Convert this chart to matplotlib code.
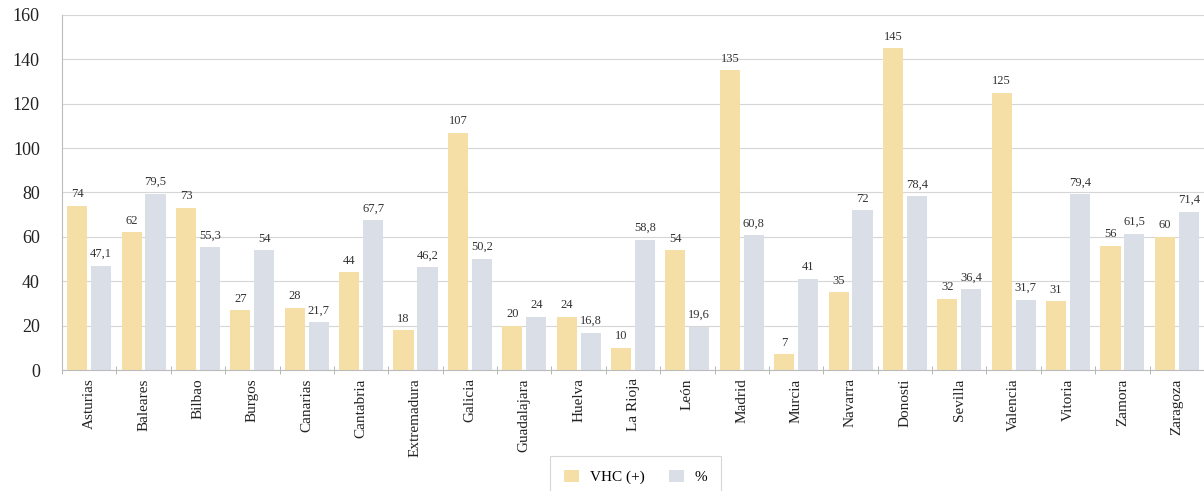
import numpy as np
import matplotlib.pyplot as plt
from matplotlib.ticker import FixedLocator

ciudades = ['Asturias', 'Baleares', 'Bilbao', 'Burgos', 'Canarias', 'Cantabria',
            'Extremadura', 'Galicia', 'Guadalajara', 'Huelva', 'La Rioja', 'León',
            'Madrid', 'Murcia', 'Navarra', 'Donosti', 'Sevilla', 'Valencia',
            'Vitoria', 'Zamora', 'Zaragoza']
vhc = [74, 62, 73, 27, 28, 44, 18, 107, 20, 24, 10, 54, 135, 7, 35, 145, 32, 125, 31, 56, 60]
pct = [47.1, 79.5, 55.3, 54, 21.7, 67.7, 46.2, 50.2, 24, 16.8, 58.8, 19.6, 60.8, 41, 72,
       78.4, 36.4, 31.7, 79.4, 61.5, 71.4]

amarillo = '#f6dfa6'
gris = '#dadee7'

plt.rcParams['font.family'] = ['Liberation Serif', 'DejaVu Serif']

def etiqueta(v):
    if float(v).is_integer():
        return str(int(v))
    return f'{v:.1f}'.replace('.', ',')

fig = plt.figure(figsize=(12.04, 4.91), dpi=100)
ax = fig.add_axes([0.0515, 0.2464, 0.9485, 0.7231])

x = np.arange(len(ciudades))
w = 0.37
b1 = ax.bar(x - 0.22, vhc, w, color=amarillo, label='VHC (+)', zorder=2)
b2 = ax.bar(x + 0.22, pct, w, color=gris, label='%', zorder=2)

for rect, v in zip(b1, vhc):
    ax.text(rect.get_x() + rect.get_width() / 2, v + 2.5, etiqueta(v),
            ha='center', va='bottom', fontsize=9, color='#333333')
for rect, v in zip(b2, pct):
    ax.text(rect.get_x() + rect.get_width() / 2, v + 2.5, etiqueta(v),
            ha='center', va='bottom', fontsize=9, color='#333333')

ax.set_xlim(-0.5, len(ciudades) - 0.5)
ax.set_ylim(0, 160)
ax.set_yticks(range(0, 161, 20))
ax.tick_params(axis='y', labelsize=13, length=0, pad=16, colors='#222222')
ax.set_xticks(x)
ax.set_xticklabels(ciudades, rotation=90, fontsize=11, color='#222222')
ax.tick_params(axis='x', which='major', length=0, pad=6)
# marcas entre grupos
ax.xaxis.set_minor_locator(FixedLocator(np.arange(-0.5, len(ciudades), 1)))
ax.tick_params(axis='x', which='minor', length=6, direction='inout', color='#aaaaaa')

ax.grid(axis='y', color='#d6d6d6', linewidth=0.8, zorder=0)
for s in ['top', 'right']:
    ax.spines[s].set_visible(False)
ax.spines['left'].set_color('#bbbbbb')
ax.spines['bottom'].set_color('#bbbbbb')

leg = fig.legend(loc='lower center', bbox_to_anchor=(0.528, -0.03), ncol=2,
                 fontsize=11, frameon=True, fancybox=False, edgecolor='#cccccc',
                 handlelength=1.0, handleheight=0.9, borderpad=0.9,
                 columnspacing=1.6, handletextpad=0.7)
leg.get_frame().set_linewidth(0.8)

fig.savefig('out.png', dpi=100)
